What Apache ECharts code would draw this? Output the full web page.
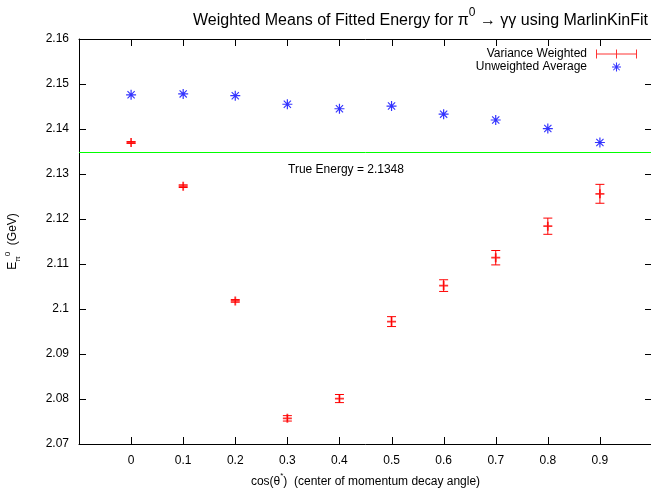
<!DOCTYPE html>
<html>
<head>
<meta charset="utf-8">
<script src="https://cdn.jsdelivr.net/npm/echarts@6/dist/echarts.min.js"></script>
<style>
  html, body { margin: 0; padding: 0; background: #fff; }
  #main { width: 651px; height: 488px; }
</style>
</head>
<body>
<div id="main"></div>
<script>
// cos(theta*) bins
var cosTheta = [0, 0.1, 0.2, 0.3, 0.4, 0.5, 0.6, 0.7, 0.8, 0.9];
// variance weighted mean and its error
var weightedMean = [2.1370, 2.1273, 2.1018, 2.0757, 2.0801, 2.0972, 2.1052, 2.1114, 2.1184, 2.1256];
var weightedErr = [0.0002, 0.0003, 0.0003, 0.0006, 0.0009, 0.0011, 0.0013, 0.0016, 0.0018, 0.0021];
// plain average
var unweightedMean = [2.1476, 2.1478, 2.1474, 2.1455, 2.1445, 2.1451, 2.1433, 2.1420, 2.1401, 2.1370];
var trueEnergy = 2.1348;

// frame ticks (gnuplot style, mirrored on all four sides)
var xTicks = [-0.1, 0, 0.1, 0.2, 0.3, 0.4, 0.5, 0.6, 0.7, 0.8, 0.9, 1.0];
var yTicks = [2.07, 2.08, 2.09, 2.10, 2.11, 2.12, 2.13, 2.14, 2.15, 2.16];

var FONT = '"Liberation Sans", Arial, Helvetica, sans-serif';

// filled shapes so that scatter and legend draw them the same way
var plusPath = 'path://M-1,-0.2L1,-0.2L1,0.2L-1,0.2Z M-0.2,-1L0.2,-1L0.2,1L-0.2,1Z';
var starPath = 'path://M-1,-0.12L1,-0.12L1,0.12L-1,0.12Z M-0.12,-1L0.12,-1L0.12,1L-0.12,1Z' +
  ' M-0.64,-0.8L0.8,0.64L0.64,0.8L-0.8,-0.64Z M-0.8,0.64L0.64,-0.8L0.8,-0.64L-0.64,0.8Z';
var errPath = 'path://M0,4L41,4L41,5L0,5Z M0,0L1,0L1,9L0,9Z M20,0L21,0L21,9L20,9Z M40,0L41,0L41,9L40,9Z';

var redPoints = cosTheta.map(function (x, i) { return [x, weightedMean[i]]; });
var redBars = cosTheta.map(function (x, i) { return [x, weightedMean[i], weightedErr[i]]; });
var bluePoints = cosTheta.map(function (x, i) { return [x, unweightedMean[i]]; });

var TICK = 7;
var tickLine = { stroke: '#000', lineWidth: 1 };

function renderErrorBar(params, api) {
  var x = api.value(0), y = api.value(1), e = api.value(2);
  var top = api.coord([x, y + e]);
  var bot = api.coord([x, y - e]);
  var w = 4.5;
  var st = { stroke: '#ff0000', lineWidth: 1 };
  return {
    type: 'group',
    children: [
      { type: 'line', shape: { x1: top[0], y1: top[1], x2: bot[0], y2: bot[1] }, style: st },
      { type: 'line', shape: { x1: top[0] - w, y1: top[1], x2: top[0] + w, y2: top[1] }, style: st },
      { type: 'line', shape: { x1: bot[0] - w, y1: bot[1], x2: bot[0] + w, y2: bot[1] }, style: st }
    ]
  };
}

function renderXTick(params, api) {
  var cs = params.coordSys;
  var px = Math.round(api.coord([api.value(0), yTicks[0]])[0]) + 0.5;
  var yb = cs.y + cs.height, yt = cs.y;
  return {
    type: 'group',
    children: [
      { type: 'line', shape: { x1: px, y1: yb, x2: px, y2: yb - TICK }, style: tickLine },
      { type: 'line', shape: { x1: px, y1: yt, x2: px, y2: yt + TICK }, style: tickLine }
    ]
  };
}

function renderYTick(params, api) {
  var cs = params.coordSys;
  var py = Math.round(api.coord([xTicks[0], api.value(1)])[1]) + 0.5;
  var xl = cs.x, xr = cs.x + cs.width;
  return {
    type: 'group',
    children: [
      { type: 'line', shape: { x1: xl, y1: py, x2: xl + TICK, y2: py }, style: tickLine },
      { type: 'line', shape: { x1: xr, y1: py, x2: xr - TICK, y2: py }, style: tickLine }
    ]
  };
}

function frameLine() {
  return { show: true, onZero: false, lineStyle: { color: '#000', width: 1 } };
}

var option = {
  animation: false,
  backgroundColor: '#fff',
  textStyle: { fontFamily: FONT },
  title: {
    text: '{a|Weighted Means of Fitted Energy for π}{s|0}{a| → γγ using MarlinKinFit}',
    left: 188,
    top: 2,
    textStyle: {
      fontWeight: 'normal',
      rich: {
        a: { fontFamily: FONT, fontSize: 16, fontWeight: 'normal', color: '#000', lineHeight: 22, verticalAlign: 'bottom' },
        s: { fontFamily: FONT, fontSize: 12, fontWeight: 'normal', color: '#000', lineHeight: 22, verticalAlign: 'top' }
      }
    }
  },
  legend: {
    orient: 'vertical',
    right: 9,
    top: 43,
    align: 'right',
    itemWidth: 41,
    itemHeight: 9,
    itemGap: 1,
    selectedMode: false,
    textStyle: { fontFamily: FONT, fontSize: 12, color: '#000', padding: [0, 4, 0, 0] },
    data: [
      { name: 'Variance Weighted', icon: errPath },
      { name: 'Unweighted Average', icon: starPath }
    ]
  },
  grid: { left: 79, right: -1, top: 39, bottom: 44, outerBoundsMode: 'none' },
  xAxis: [
    {
      type: 'value',
      min: -0.1,
      max: 1.0,
      interval: 0.1,
      name: '{n|cos(θ}{s|*}{n|)  (center of momentum decay angle)}',
      nameLocation: 'middle',
      nameGap: 25,
      nameTextStyle: {
        rich: {
          n: { fontFamily: FONT, fontSize: 12, color: '#000', lineHeight: 16, verticalAlign: 'bottom' },
          s: { fontFamily: FONT, fontSize: 8, color: '#000', lineHeight: 16, verticalAlign: 'top' }
        }
      },
      axisLine: frameLine(),
      axisTick: { show: false },
      splitLine: { show: false },
      axisLabel: {
        margin: 11,
        fontFamily: FONT,
        fontSize: 12,
        color: '#000',
        formatter: function (v) {
          if (v < -0.05 || v > 0.95) return '';
          return String(parseFloat(v.toFixed(1)));
        }
      }
    },
    {
      type: 'value',
      position: 'top',
      min: -0.1,
      max: 1.0,
      interval: 0.1,
      axisLine: frameLine(),
      axisTick: { show: false },
      axisLabel: { show: false },
      splitLine: { show: false }
    }
  ],
  yAxis: [
    {
      type: 'value',
      min: 2.07,
      max: 2.16,
      interval: 0.01,
      name: '{n|E}{b|π}{t|0}{n|  (GeV)}',
      nameLocation: 'middle',
      nameRotate: 90,
      nameGap: 57,
      nameTextStyle: {
        rich: {
          n: { fontFamily: FONT, fontSize: 12, color: '#000', lineHeight: 18 },
          b: { fontFamily: FONT, fontSize: 8, color: '#000', lineHeight: 18, verticalAlign: 'bottom' },
          t: { fontFamily: FONT, fontSize: 8, color: '#000', lineHeight: 18, verticalAlign: 'top' }
        }
      },
      axisLine: frameLine(),
      axisTick: { show: false },
      splitLine: { show: false },
      axisLabel: {
        margin: 10,
        fontFamily: FONT,
        fontSize: 12,
        color: '#000',
        formatter: function (v) { return String(parseFloat(v.toFixed(2))); }
      }
    },
    {
      type: 'value',
      position: 'right',
      min: 2.07,
      max: 2.16,
      interval: 0.01,
      axisLine: frameLine(),
      axisTick: { show: false },
      axisLabel: { show: false },
      splitLine: { show: false }
    }
  ],
  graphic: [
    {
      type: 'text',
      left: 288,
      top: 164,
      style: { text: 'True Energy = 2.1348', font: '12px ' + FONT, fill: '#000' }
    }
  ],
  series: [
    {
      name: 'xticks',
      type: 'custom',
      silent: true,
      renderItem: renderXTick,
      encode: { x: 0, y: 1 },
      data: xTicks.map(function (v) { return [v, yTicks[0]]; }),
      z: 2
    },
    {
      name: 'yticks',
      type: 'custom',
      silent: true,
      renderItem: renderYTick,
      encode: { x: 0, y: 1 },
      data: yTicks.map(function (v) { return [xTicks[0], v]; }),
      z: 2
    },
    {
      name: 'errbar',
      type: 'custom',
      renderItem: renderErrorBar,
      encode: { x: 0, y: 1 },
      data: redBars,
      z: 3
    },
    {
      name: 'Variance Weighted',
      type: 'scatter',
      symbol: plusPath,
      symbolSize: 9,
      itemStyle: { color: '#ff0000' },
      data: redPoints,
      z: 4,
      markLine: {
        silent: true,
        symbol: 'none',
        precision: 4,
        label: { show: false },
        lineStyle: { color: '#00ff00', width: 1, type: 'solid' },
        data: [{ yAxis: trueEnergy }]
      }
    },
    {
      name: 'Unweighted Average',
      type: 'scatter',
      symbol: starPath,
      symbolSize: 10,
      itemStyle: { color: '#0000ff' },
      data: bluePoints,
      z: 4
    }
  ]
};

var chartDom = document.getElementById('main');
var chart = echarts.init(chartDom);
chart.setOption(option);
</script>
</body>
</html>
